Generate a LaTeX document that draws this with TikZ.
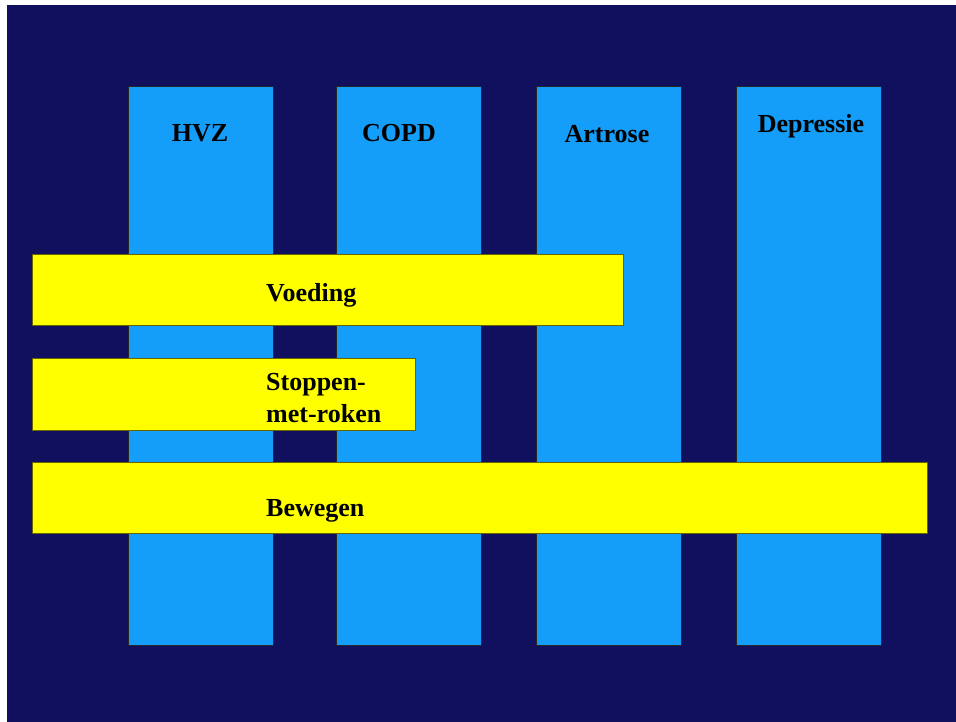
\documentclass[tikz,border=0pt]{standalone}
\usepackage{fontspec}
\setmainfont{Liberation Serif}
\definecolor{navy}{HTML}{10105F}
\definecolor{sky}{HTML}{149EFA}
\definecolor{bar}{HTML}{FFFF00}
\begin{document}
\begin{tikzpicture}[x=1pt,y=-1pt,
  column/.style={fill=sky,draw=black!85,line width=0.9pt},
  band/.style={fill=bar,draw=black!60!bar,line width=0.9pt},
  lbl/.style={font=\fontsize{26}{32}\selectfont\bfseries,text=black,inner sep=0pt},
  blbl/.style={lbl,anchor=west,align=left}]
  \useasboundingbox (0,0) rectangle (956,722);
  \fill[white] (0,0) rectangle (956,722);
  \fill[navy] (7,5) rectangle (956,722);
  % disease columns
  \draw[column] (128,86) rectangle (273,645);
  \draw[column] (336,86) rectangle (481,645);
  \draw[column] (536,86) rectangle (681,645);
  \draw[column] (736,86) rectangle (881,645);
  \node[lbl] (hvz) at (200,133) {HVZ};
  \node[lbl] (copd) at (399,133) {COPD};
  \node[lbl] (artrose) at (607,134) {Artrose};
  \node[lbl] (depressie) at (811,126) {Depressie};
  % lifestyle bands
  \draw[band] (32,254) rectangle (623,325);
  \draw[band] (32,358) rectangle (415,430);
  \draw[band] (32,462) rectangle (927,533);
  \node[blbl] (voeding) at (266,295) {Voeding};
  \node[blbl] (roken) at (266,398) {Stoppen-\\met-roken};
  \node[blbl] (bewegen) at (266,511) {Bewegen};
\end{tikzpicture}
\end{document}
